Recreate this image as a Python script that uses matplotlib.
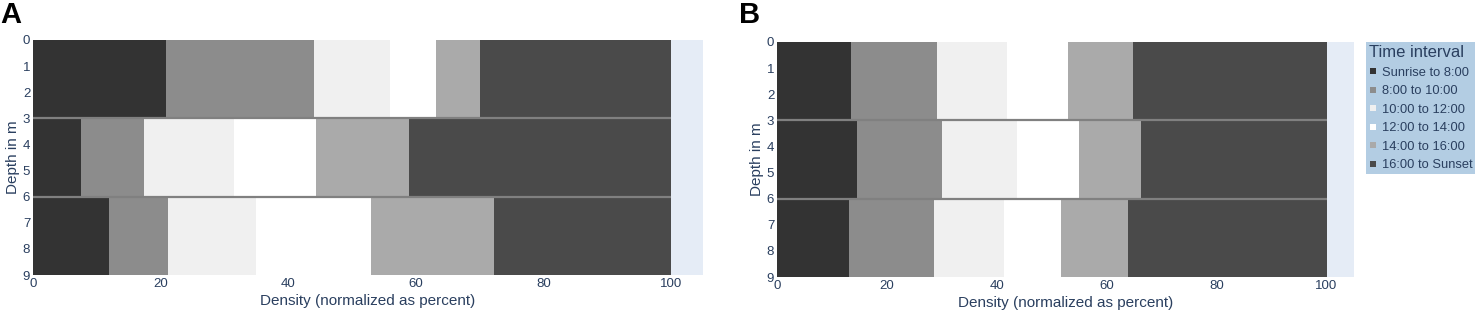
import matplotlib
matplotlib.use("Agg")
import matplotlib.pyplot as plt
from matplotlib.lines import Line2D

# ── Data ──────────────────────────────────────────────────────────────
intervals = ["Sunrise to 8:00", "8:00 to 10:00", "10:00 to 12:00",
             "12:00 to 14:00", "14:00 to 16:00", "16:00 to Sunset"]
depth_bins = [(0, 3), (3, 6), (6, 9)]

# percent share per interval, one row per depth bin
panel_a = [
    [20.9, 23.2, 11.8, 7.3, 6.9, 29.9],
    [7.6, 9.8, 14.1, 12.9, 14.6, 41.0],
    [11.9, 9.2, 13.9, 18.0, 19.3, 27.7],
]
panel_b = [
    [13.5, 15.7, 12.6, 11.2, 11.8, 35.2],
    [14.6, 15.5, 13.6, 11.2, 11.3, 33.8],
    [13.1, 15.5, 12.7, 10.3, 12.3, 36.1],
]

# ── Style ─────────────────────────────────────────────────────────────
COLORS = ["#333333", "#8c8c8c", "#f0f0f0", "#ffffff", "#aaaaaa", "#4a4a4a"]
TXT = "#2a3f5f"
BG = "#e5ecf6"
plt.rcParams["font.family"] = ["Liberation Sans", "DejaVu Sans"]


def draw_panel(ax, rows):
    for (top, bot), vals in zip(depth_bins, rows):
        left = 0
        for v, c in zip(vals, COLORS):
            ax.barh(top, v, height=bot - top, left=left, align="edge",
                    color=c, linewidth=0)
            left += v
    for top, bot in depth_bins[1:]:
        ax.hlines(top, 0, 100, color="#808080", lw=1.6, zorder=3)
    ax.set_facecolor(BG)
    ax.set_xlim(0, 105)
    ax.set_ylim(9, 0)
    ax.set_xticks([0, 20, 40, 60, 80, 100])
    ax.set_yticks(range(10))
    ax.tick_params(length=0, labelsize=9.5, colors=TXT, pad=2)
    for s in ax.spines.values():
        s.set_visible(False)
    ax.set_xlabel("Density (normalized as percent)", fontsize=11, color=TXT, labelpad=3)
    ax.set_ylabel("Depth in m", fontsize=11, color=TXT, labelpad=2)


fig = plt.figure(figsize=(14.77, 3.15), dpi=100)
ax_a = fig.add_axes([33 / 1477, 40 / 315, 670 / 1477, 235 / 315])
ax_b = fig.add_axes([777 / 1477, 38 / 315, 577 / 1477, 235 / 315])
draw_panel(ax_a, panel_a)
draw_panel(ax_b, panel_b)
fig.text(0 / 1477, 1 - 1 / 315, "A", fontsize=21, fontweight="bold",
         color="black", ha="left", va="top")
fig.text(739 / 1477, 1 - 1 / 315, "B", fontsize=21, fontweight="bold",
         color="black", ha="left", va="top")

handles = [Line2D([], [], marker="s", ls="none", markersize=4, color=c,
                  markeredgewidth=0) for c in COLORS]
leg = fig.legend(handles, intervals, title="Time interval",
                 loc="upper left", bbox_to_anchor=(1366 / 1477, 1 - 42 / 315),
                 frameon=True, facecolor="#b3cde3", edgecolor="none",
                 fancybox=False, framealpha=1, fontsize=9.3, title_fontsize=12,
                 handlelength=0.6, handletextpad=0.35, labelspacing=0.5,
                 borderpad=0.25, borderaxespad=0, alignment="left")
for t in leg.get_texts():
    t.set_color(TXT)
leg.get_title().set_color(TXT)

fig.savefig("out.png", dpi=100)
